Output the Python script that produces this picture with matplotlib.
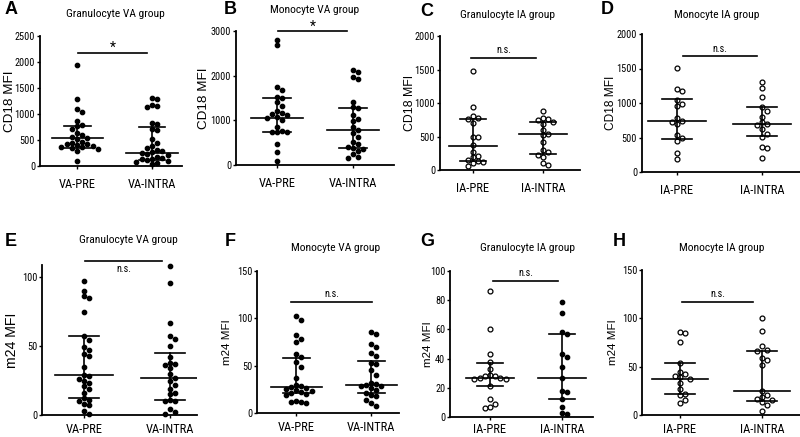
import matplotlib
matplotlib.use('agg')
import matplotlib.pyplot as plt
from matplotlib import font_manager
from matplotlib.font_manager import FontProperties
import numpy as np

W, H = 800, 437

# ---- values ----
# CD18 MFI
gran_va_pre = [1950, 1290, 1100, 1040, 870, 780, 760, 720, 640, 600, 560, 545, 520,
               470, 450, 430, 420, 400, 380, 370, 360, 345, 330, 290, 90]
gran_va_intra = [1310, 1280, 1170, 1150, 1130, 830, 810, 720, 690, 510, 450, 380, 350, 300,
                 280, 260, 250, 230, 210, 180, 160, 140, 130, 120, 100, 80, 60, 30]
mono_va_pre = [2800, 2680, 1740, 1690, 1520, 1490, 1400, 1310, 1210, 1160, 1140, 1110,
               1080, 1050, 1000, 860, 760, 750, 740, 730, 470, 280, 100]
mono_va_intra = [2120, 2090, 1980, 1930, 1420, 1300, 1270, 1120, 1020, 990, 840, 790,
                 710, 620, 520, 460, 410, 370, 350, 320, 240, 190, 150]
gran_ia_pre = [1480, 940, 800, 770, 760, 700, 500, 490, 370, 270, 210, 190, 150, 130, 120, 100, 60]
gran_ia_intra = [880, 780, 760, 740, 720, 690, 600, 540, 520, 420, 300, 270, 230, 200, 100, 70]
mono_ia_pre = [1510, 1200, 1180, 1050, 980, 960, 780, 740, 720, 690, 540, 500, 450, 270, 190]
mono_ia_intra = [1310, 1220, 1080, 940, 880, 800, 720, 700, 680, 620, 550, 510, 360, 350, 200]

# m24 MFI
m24_gran_va_pre = [97, 90, 86, 85, 75, 57, 54, 49, 47, 44, 43, 35, 29, 28, 26, 25, 23, 21,
                   19, 16, 12, 11, 10, 8, 7, 3, 1]
m24_gran_va_intra = [108, 96, 67, 57, 55, 50, 42, 38, 37, 36, 34, 30, 27, 25, 22, 19, 16,
                     15, 11, 10, 10, 4, 2, 1]
m24_mono_va_pre = [102, 98, 82, 78, 75, 62, 59, 54, 49, 37, 30, 28, 27, 26, 25, 24, 23, 22,
                   21, 20, 19, 13, 12, 12, 11]
m24_mono_va_intra = [86, 83, 73, 70, 63, 60, 53, 52, 45, 40, 32, 31, 30, 29, 28, 26, 24, 21,
                     19, 18, 14, 11, 7]
m24_gran_ia_pre = [86, 60, 43, 38, 33, 29, 28, 28, 27, 27, 26, 26, 21, 12, 9, 7, 6]
m24_gran_ia_intra = [79, 71, 58, 57, 43, 41, 34, 27, 18, 17, 12, 7, 3, 2]
m24_mono_ia_pre = [86, 85, 76, 54, 45, 42, 40, 39, 37, 33, 27, 22, 21, 16, 12]
m24_mono_ia_intra = [100, 87, 71, 67, 66, 59, 57, 52, 25, 21, 19, 17, 16, 13, 10, 4]

# median, q1, q3 as drawn
stats = {
    'A': [(545, 355, 770), (255, 120, 750)],
    'B': [(1060, 750, 1490), (790, 370, 1270)],
    'C': [(365, 130, 765), (530, 235, 710)],
    'D': [(745, 480, 1060), (700, 520, 940)],
    'E': [(29, 12, 57), (27, 11, 45)],
    'F': [(27, 21, 58), (30, 21, 55)],
    'G': [(27, 21, 37), (27, 12, 57)],
    'H': [(37, 22, 54), (25, 15, 66)],
}

va_cats = ['VA-PRE', 'VA-INTRA']
ia_cats = ['IA-PRE', 'IA-INTRA']

# layout in pixels: left, right, top(ymax), bottom(y=0), cat0 px, cat1 px
panels = [
    dict(k='A', title='Granulocyte VA group', yl='CD18 MFI', cats=va_cats, data=(gran_va_pre, gran_va_intra),
         hollow=(False, False), box=(40, 182, 36, 166), cx=(77, 152), ymax=2500, ticks=[0, 500, 1000, 1500, 2000, 2500],
         sig='*', sigy=2170, sigx=(78, 147), txty=48, letter=(11, 10), tpos=(115, 14), ylx=10, ylfs=10, xpad=6),
    dict(k='B', title='Monocyte VA group', yl='CD18 MFI', cats=va_cats, data=(mono_va_pre, mono_va_intra),
         hollow=(False, False), box=(236, 394, 31, 165), cx=(277, 353), ymax=3000, ticks=[0, 1000, 2000, 3000],
         sig='*', sigy=3000, sigx=(278, 347), txty=27, letter=(230, 9), tpos=(315, 10), ylx=204, ylfs=10, xpad=6),
    dict(k='C', title='Granulocyte IA group', yl='CD18 MFI', cats=ia_cats, data=(gran_ia_pre, gran_ia_intra),
         hollow=(True, True), box=(440, 580, 36, 170), cx=(473, 543), ymax=2000, ticks=[0, 500, 1000, 1500, 2000],
         sig='n.s.', sigy=1670, sigx=(471, 536), txty=50, letter=(427, 11), tpos=(508, 15), ylx=410, ylfs=9.2, xpad=6),
    dict(k='D', title='Monocyte IA group', yl='CD18 MFI', cats=ia_cats, data=(mono_ia_pre, mono_ia_intra),
         hollow=(True, True), box=(642, 800, 34, 172), cx=(677, 762), ymax=2000, ticks=[0, 500, 1000, 1500, 2000],
         sig='n.s.', sigy=1680, sigx=(683, 757), txty=49, letter=(607, 9), tpos=(717, 15), ylx=611, ylfs=8.8, xpad=6),
    dict(k='E', title='Granulocyte VA group', yl='m24 MFI', cats=va_cats, data=(m24_gran_va_pre, m24_gran_va_intra),
         hollow=(False, False), box=(42, 197, 265, 415), cx=(84, 170), ymax=108.7, ticks=[0, 50, 100],
         sig='n.s.', sigy=111.6, sigx=(85, 162), txty=269, letter=(11, 241), tpos=(128, 240), ylx=12, ylfs=10.5, xpad=3),
    dict(k='F', title='Monocyte VA group', yl='m24 MFI', cats=va_cats, data=(m24_mono_va_pre, m24_mono_va_intra),
         hollow=(False, False), box=(257, 399, 271, 413), cx=(296, 371), ymax=150, ticks=[0, 50, 100, 150],
         sig='n.s.', sigy=117, sigx=(291, 372), txty=294, letter=(230, 241), tpos=(336, 248), ylx=227, ylfs=8.5, xpad=3.5),
    dict(k='G', title='Granulocyte IA group', yl='m24 MFI', cats=ia_cats, data=(m24_gran_ia_pre, m24_gran_ia_intra),
         hollow=(True, False), box=(450, 593, 271, 417), cx=(490, 562), ymax=100, ticks=[0, 20, 40, 60, 80, 100],
         sig='n.s.', sigy=93, sigx=(493, 558), txty=273, letter=(427, 241), tpos=(527, 248), ylx=428, ylfs=8.5, xpad=2),
    dict(k='H', title='Monocyte IA group', yl='m24 MFI', cats=ia_cats, data=(m24_mono_ia_pre, m24_mono_ia_intra),
         hollow=(True, True), box=(642, 800, 270, 415), cx=(680, 762), ymax=150, ticks=[0, 50, 100, 150],
         sig='n.s.', sigy=117, sigx=(682, 753), txty=294, letter=(619, 241), tpos=(722, 248), ylx=613, ylfs=8.5, xpad=3),
]


# pick a narrow face if one is around, else plain sans
names = {f.name for f in font_manager.fontManager.ttflist}
narrow = None
for nm in ['Liberation Sans Narrow', 'Arial Narrow', 'Nimbus Sans Narrow', 'Roboto Condensed', 'Open Sans Condensed']:
    if nm in names:
        narrow = FontProperties(family=nm)
        break
if narrow is None:
    fp = FontProperties(family='DejaVu Sans', stretch='condensed')
    if 'Condensed' in font_manager.findfont(fp):
        narrow = fp
    else:
        narrow = FontProperties(family='Liberation Sans')
REG = ['Liberation Sans', 'DejaVu Sans']

fig = plt.figure(figsize=(W / 100, H / 100), dpi=100)
renderer = fig.canvas.get_renderer()


def fit_size(s, target_px, max_pt):
    # font size whose width comes out near target_px, capped so it does not get too tall
    fp = narrow.copy()
    fp.set_size(10)
    t = fig.text(0, 0, s, fontproperties=fp)
    w = t.get_window_extent(renderer).width
    t.remove()
    return min(10 * target_px / w, max_pt)


xt_fs = fit_size('VA-PRE', 37, 9)
yt_fs = fit_size('2500', 20, 8)
ti_fs = fit_size('Granulocyte VA group', 98, 9)
ns_fs = fit_size('n.s.', 15, 9)


def fprop(size):
    fp = narrow.copy()
    fp.set_size(size)
    return fp


def swarm(vals, ppu, step=5.2):
    # horizontal offsets (px) so dots don't overlap, prism style
    vals = np.asarray(vals, float)
    order = np.argsort(vals)[::-1]
    placed = []
    offs = np.zeros(len(vals))
    for i in order:
        y = vals[i] * ppu
        cand = 0.0
        for k in range(0, 30):
            cand = 0.0 if k == 0 else ((k + 1) // 2) * step * (1 if k % 2 else -1)
            if all((cand - ox) ** 2 + (y - oy) ** 2 >= step ** 2 for ox, oy in placed):
                break
        offs[i] = cand
        placed.append((cand, y))
    return offs


for p in panels:
    l, r, t, b = p['box']
    c0, c1 = p['cx']
    sp = c1 - c0
    ax = fig.add_axes([l / W, 1 - b / H, (r - l) / W, (b - t) / H])
    ax.set_xlim((l - c0) / sp, (r - c0) / sp)
    ax.set_ylim(0, p['ymax'])
    ppu = (b - t) / p['ymax']
    for s in ['top', 'right']:
        ax.spines[s].set_visible(False)
    for s in ['left', 'bottom']:
        ax.spines[s].set_linewidth(1.3)

    for i, vals in enumerate(p['data']):
        xo = swarm(vals, ppu) / sp
        fc = 'white' if p['hollow'][i] else 'black'
        ax.plot(i + xo, vals, 'o', ms=3.5 if p['hollow'][i] else 3.2, mfc=fc, mec='black',
                mew=0.9, ls='none', clip_on=False, zorder=3)
        med, q1, q3 = stats[p['k']][i]
        ax.plot([i - 0.34, i + 0.34], [med, med], color='black', lw=1.2, zorder=4)
        ax.plot([i - 0.18, i + 0.18], [q1, q1], color='black', lw=1.2, zorder=4)
        ax.plot([i - 0.18, i + 0.18], [q3, q3], color='black', lw=1.2, zorder=4)
        ax.plot([i, i], [q1, q3], color='black', lw=1.2, zorder=4)

    ax.set_xticks([0, 1])
    ax.set_xticklabels(p['cats'], fontproperties=fprop(xt_fs))
    ax.set_yticks(p['ticks'])
    ax.set_yticklabels([str(v) for v in p['ticks']], fontproperties=fprop(yt_fs))
    ax.tick_params(axis='y', length=2.5, width=1, pad=1)
    ax.tick_params(axis='x', length=2.5, width=1, pad=p['xpad'])

    # significance bar
    x0 = (p['sigx'][0] - c0) / sp
    x1 = (p['sigx'][1] - c0) / sp
    ax.plot([x0, x1], [p['sigy'], p['sigy']], color='black', lw=1.2, clip_on=False)
    fs = 10 if p['sig'] == '*' else ns_fs
    fig.text((p['sigx'][0] + p['sigx'][1]) / 2 / W, 1 - p['txty'] / H, p['sig'],
             ha='center', va='center', fontproperties=fprop(fs))

    fig.text(p['tpos'][0] / W, 1 - p['tpos'][1] / H, p['title'], ha='center', va='center',
             fontproperties=fprop(ti_fs))
    fig.text(p['letter'][0] / W, 1 - p['letter'][1] / H, p['k'], ha='center', va='center',
             family=REG, fontsize=13, fontweight='bold')
    fig.text(p['ylx'] / W, 1 - (t + b) / 2 / H, p['yl'], ha='center', va='center',
             rotation=90, family=REG, fontsize=p['ylfs'] * 0.97)

fig.savefig('out.png', dpi=100)
